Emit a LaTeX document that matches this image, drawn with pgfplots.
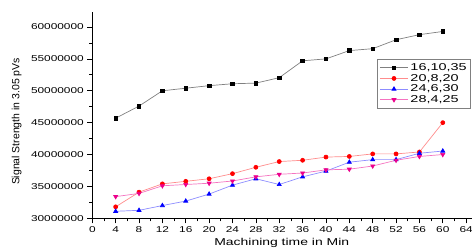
\documentclass[border=0pt]{standalone}
\usepackage{fontspec}
\setmainfont[FakeStretch=1.4]{Liberation Sans}
\newfontfamily\plainfont{Liberation Sans}
\newfontfamily\legfont[FakeStretch=1.45]{Liberation Sans}
\usepackage{pgfplots}
\pgfplotsset{compat=1.18}
\begin{document}
\begin{tikzpicture}
\path[use as bounding box] (0,0) rectangle (472bp,250bp);
\begin{axis}[
  at={(92.3bp,31.7bp)}, anchor=south west,
  scale only axis, width=379.7bp, height=206.6bp,
  xmin=0, xmax=65, ymin=30000000, ymax=62400000,
  axis x line*=bottom, axis y line*=left,
  axis line style={black, line width=0.8pt, -},
  xtick={0,4,...,64}, ytick={30000000,35000000,...,60000000},
  minor x tick num=1, minor y tick num=1,
  tick align=outside,
  major tick length=5bp, minor tick length=3bp,
  tick style={black, line width=0.7pt},
  scaled y ticks=false,
  /pgf/number format/assume math mode=true,
  yticklabel style={/pgf/number format/fixed, /pgf/number format/1000 sep={}, font=\fontsize{8.5}{9}\selectfont},
  xticklabel style={font=\fontsize{8.5}{9}\selectfont},
  xlabel={Machining time in Min},
  xlabel style={font=\fontsize{10}{11}\selectfont, at={(axis description cs:0.499,-0.117)}, anchor=center},
  ylabel={Signal Strength in 3.05 pVs},
  ylabel style={font=\plainfont\fontsize{10.5}{11}\selectfont, at={(axis description cs:-0.199,0.468)}, anchor=center},
  legend style={at={(axis description cs:0.9974,0.7696)}, anchor=north east, draw=gray, line width=0.6pt, font=\legfont\fontsize{10}{11}\selectfont, inner sep=2pt, row sep=-1.8pt, cells={anchor=west}},
  legend image code/.code={\draw[mark repeat=2,mark phase=2] plot coordinates {(0cm,0cm) (0.5cm,0cm) (1cm,0cm)};},
  legend cell align=left,
]
\addplot[color=gray, line width=0.7pt, mark=square*, mark options={black, fill=black, scale=0.9}] coordinates {
(4,45700000) (8,47600000) (12,50000000) (16,50400000) (20,50800000) (24,51100000) (28,51200000) (32,52050000) (36,54700000) (40,55000000) (44,56300000) (48,56600000) (52,58000000) (56,58800000) (60,59300000)};
\addlegendentry{16,10,35}
\addplot[color=red!45, line width=0.7pt, mark=*, mark options={red, fill=red, scale=1.0}] coordinates {
(4,31800000) (8,34100000) (12,35400000) (16,35800000) (20,36200000) (24,37000000) (28,38000000) (32,38900000) (36,39100000) (40,39600000) (44,39700000) (48,40100000) (52,40100000) (56,40400000) (60,45000000)};
\addlegendentry{20,8,20}
\addplot[color=blue!45, line width=0.7pt, mark=triangle*, mark options={blue, fill=blue, scale=1.15}] coordinates {
(4,31100000) (8,31250000) (12,32000000) (16,32700000) (20,33800000) (24,35200000) (28,36200000) (32,35300000) (36,36500000) (40,37400000) (44,38800000) (48,39200000) (52,39200000) (56,40200000) (60,40550000)};
\addlegendentry{24,6,30}
\addplot[color=magenta!55, line width=0.7pt, mark=triangle*, mark options={magenta, fill=magenta, rotate=180, scale=1.15}] coordinates {
(4,33400000) (8,33900000) (12,35100000) (16,35300000) (20,35500000) (24,35850000) (28,36500000) (32,36900000) (36,37100000) (40,37600000) (44,37700000) (48,38200000) (52,39100000) (56,39700000) (60,40000000)};
\addlegendentry{28,4,25}
\end{axis}
\end{tikzpicture}
\end{document}
